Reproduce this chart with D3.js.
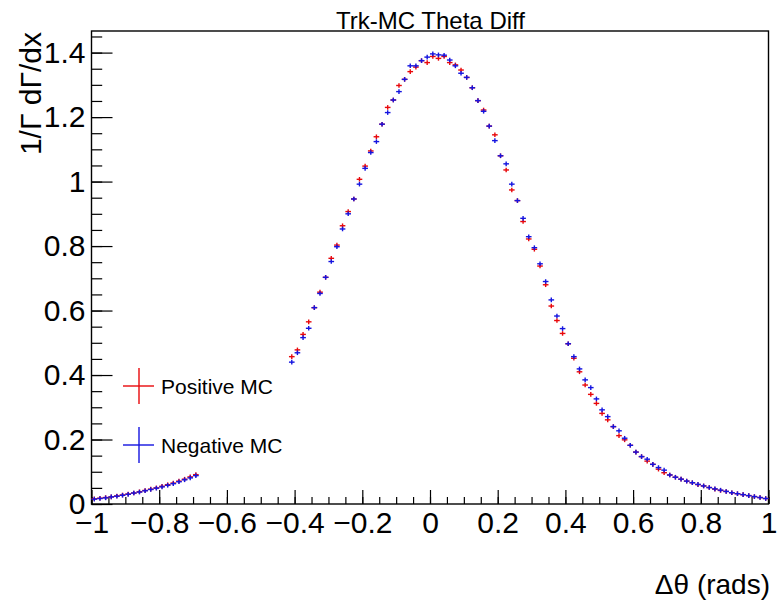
<!DOCTYPE html>
<html>
<head>
<meta charset="utf-8">
<script src="https://cdn.jsdelivr.net/npm/d3@7"></script>
<style>
  body { margin: 0; background: #fff; }
  text { font-family: "Liberation Sans", Arial, sans-serif; }
</style>
</head>
<body>
<div id="chart"></div>
<script>
// histogram: 120 bins over [-1, 1]
const xMin = -1, xMax = 1, nBins = 120;
const yMax = 1.467;

// normalised bin contents (null = bin not drawn)
const positiveMC = [
  0.016, 0.018, 0.020, 0.022, 0.025, 0.028, 0.031, 0.034, 0.038, 0.042,
  0.046, 0.050, 0.055, 0.060, 0.065, 0.071, 0.077, 0.084, 0.091, null,
  null, null, null, null, null, null, null, null, null, null,
  null, null, null, null, null, 0.457, 0.478, 0.526, 0.565, 0.609,
  0.657, 0.703, 0.762, 0.803, 0.863, 0.907, 0.946, 1.007, 1.048, 1.095,
  1.139, 1.178, 1.230, 1.253, 1.298, 1.317, 1.341, 1.355, 1.375, 1.369,
  1.388, 1.382, 1.388, 1.369, 1.362, 1.346, 1.323, 1.291, 1.251, 1.222,
  1.172, 1.145, 1.080, 1.036, 0.974, 0.941, 0.876, 0.822, 0.790, 0.738,
  0.680, 0.614, 0.569, 0.529, 0.497, 0.452, 0.410, 0.369, 0.340, 0.312,
  0.281, 0.261, 0.240, 0.212, 0.199, 0.182, 0.161, 0.147, 0.133, 0.123,
  0.108, 0.097, 0.090, 0.083, 0.077, 0.071, 0.066, 0.060, 0.056, 0.051,
  0.046, 0.042, 0.039, 0.035, 0.032, 0.029, 0.026, 0.023, 0.020, 0.017
];
const negativeMC = [
  0.015, 0.017, 0.019, 0.022, 0.024, 0.027, 0.030, 0.034, 0.037, 0.041,
  0.045, 0.049, 0.053, 0.058, 0.063, 0.069, 0.075, 0.081, 0.088, null,
  null, null, null, null, null, null, null, null, null, null,
  null, null, null, null, null, 0.440, 0.469, 0.516, 0.545, 0.609,
  0.653, 0.703, 0.752, 0.798, 0.853, 0.900, 0.946, 0.992, 1.041, 1.090,
  1.124, 1.178, 1.214, 1.253, 1.279, 1.317, 1.359, 1.359, 1.375, 1.386,
  1.396, 1.393, 1.392, 1.377, 1.359, 1.336, 1.323, 1.291, 1.251, 1.218,
  1.172, 1.127, 1.080, 1.055, 0.992, 0.941, 0.886, 0.829, 0.795, 0.745,
  0.690, 0.633, 0.583, 0.544, 0.497, 0.457, 0.419, 0.385, 0.361, 0.326,
  0.292, 0.271, 0.240, 0.227, 0.204, 0.182, 0.161, 0.147, 0.139, 0.123,
  0.113, 0.105, 0.090, 0.083, 0.077, 0.071, 0.066, 0.061, 0.056, 0.051,
  0.047, 0.043, 0.039, 0.035, 0.032, 0.029, 0.026, 0.023, 0.020, 0.017
];

const seriesNames = ["Positive MC", "Negative MC"];
const seriesColors = ["#e8080b", "#1414e0"];
const xTicks = [-1, -0.8, -0.6, -0.4, -0.2, 0, 0.2, 0.4, 0.6, 0.8, 1];
const yTicks = [0, 0.2, 0.4, 0.6, 0.8, 1, 1.2, 1.4];

const W = 778, H = 603;
const frame = { left: 91.5, right: 768.5, top: 31, bottom: 504 };

const svg = d3.select("#chart").append("svg")
  .attr("width", W)
  .attr("height", H);

const x = d3.scaleLinear().domain([xMin, xMax]).range([frame.left, frame.right]);
const y = d3.scaleLinear().domain([0, yMax]).range([frame.bottom, frame.top]);

const binW = (xMax - xMin) / nBins;
const fmt = d => d3.format("")(d).replace("-", "\u2212");

// minor ticks every 0.05
const xMinor = d3.range(-1, 1.0001, 0.05).map(d => +d.toFixed(2));
const yMinor = d3.range(0, yMax, 0.05).map(d => +d.toFixed(2));

svg.append("g")
  .attr("transform", "translate(0," + frame.bottom + ")")
  .call(d3.axisBottom(x).tickValues(xMinor).tickSizeInner(-7).tickSizeOuter(0).tickFormat(""))
  .call(g => g.select(".domain").remove());
svg.append("g")
  .attr("transform", "translate(0," + frame.bottom + ")")
  .call(d3.axisBottom(x).tickValues(xTicks).tickSizeInner(-14).tickSizeOuter(0).tickPadding(8).tickFormat(fmt))
  .call(g => g.select(".domain").remove())
  .call(g => g.selectAll("text").attr("font-size", 30).attr("fill", "#000")
    .attr("font-family", "Liberation Sans, Arial, sans-serif"));

svg.append("g")
  .attr("transform", "translate(" + frame.left + ",0)")
  .call(d3.axisLeft(y).tickValues(yMinor).tickSizeInner(-10.7).tickSizeOuter(0).tickFormat(""))
  .call(g => g.select(".domain").remove());
svg.append("g")
  .attr("transform", "translate(" + frame.left + ",0)")
  .call(d3.axisLeft(y).tickValues(yTicks).tickSizeInner(-21).tickSizeOuter(0).tickPadding(6).tickFormat(fmt))
  .call(g => g.select(".domain").remove())
  .call(g => g.selectAll("text").attr("font-size", 30).attr("fill", "#000")
    .attr("font-family", "Liberation Sans, Arial, sans-serif"));

svg.selectAll(".tick line").attr("stroke", "#000").attr("stroke-width", 1.2);

// frame
svg.append("rect")
  .attr("x", frame.left)
  .attr("y", frame.top)
  .attr("width", frame.right - frame.left)
  .attr("height", frame.bottom - frame.top)
  .attr("fill", "none")
  .attr("stroke", "#000")
  .attr("stroke-width", 1.4);

// points (error-bar style crosses)
const halfErr = 2.3;
[positiveMC, negativeMC].forEach((vals, s) => {
  const pts = vals.map((v, i) => ({ i: i, v: v })).filter(d => d.v !== null);
  const g = svg.append("g").attr("stroke", seriesColors[s]).attr("stroke-width", 1.4);
  g.selectAll("line.h").data(pts).enter().append("line")
    .attr("class", "h")
    .attr("x1", d => x(xMin + d.i * binW))
    .attr("x2", d => x(xMin + (d.i + 1) * binW))
    .attr("y1", d => y(d.v))
    .attr("y2", d => y(d.v));
  g.selectAll("line.v").data(pts).enter().append("line")
    .attr("class", "v")
    .attr("x1", d => x(xMin + (d.i + 0.5) * binW))
    .attr("x2", d => x(xMin + (d.i + 0.5) * binW))
    .attr("y1", d => y(d.v) - halfErr)
    .attr("y2", d => y(d.v) + halfErr);
});

// legend
const leg = svg.append("g");
seriesNames.forEach((name, s) => {
  const cy = 386 + s * 59;
  leg.append("line").attr("x1", 123).attr("x2", 154).attr("y1", cy).attr("y2", cy)
    .attr("stroke", seriesColors[s]).attr("stroke-width", 1.4);
  leg.append("line").attr("x1", 139).attr("x2", 139).attr("y1", cy - 18).attr("y2", cy + 18)
    .attr("stroke", seriesColors[s]).attr("stroke-width", 1.4);
  leg.append("text").attr("x", 161).attr("y", cy + 8)
    .attr("font-size", 21).attr("fill", "#000").text(name);
});

// title
svg.append("text")
  .attr("x", 430.5)
  .attr("y", 29)
  .attr("text-anchor", "middle")
  .attr("font-size", 24)
  .text("Trk-MC Theta Diff");

// axis titles
svg.append("text")
  .attr("x", 770)
  .attr("y", 594)
  .attr("text-anchor", "end")
  .attr("font-size", 28)
  .text("\u0394\u03b8 (rads)");

svg.append("text")
  .attr("transform", "translate(41,32) rotate(-90)")
  .attr("text-anchor", "end")
  .attr("font-size", 30)
  .text("1/\u0393 d\u0393/dx");
</script>
</body>
</html>
